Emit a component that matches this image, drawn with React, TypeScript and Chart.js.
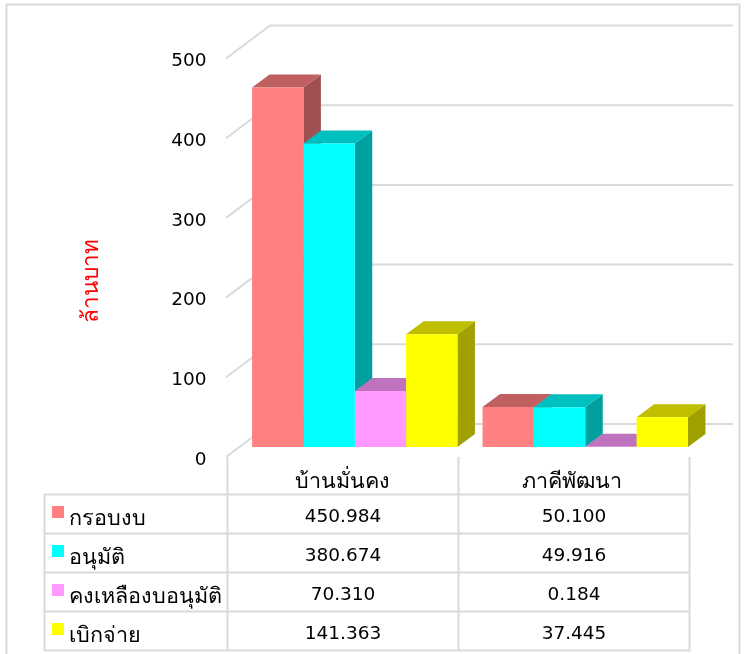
import React, { useEffect, useRef } from "react";
import { Chart, registerables } from "chart.js";

Chart.register(...registerables);

const categories = ["บ้านมั่นคง", "ภาคีพัฒนา"];
const seriesNames = ["กรอบงบ", "อนุมัติ", "คงเหลืองบอนุมัติ", "เบิกจ่าย"];
const budget = [450.984, 50.1];
const approved = [380.674, 49.916];
const remaining = [70.31, 0.184];
const disbursed = [141.363, 37.445];
const axisTitle = "ล้านบาท";

const frontColors = ["#FF8080", "#00FFFF", "#FF99FF", "#FFFF00"];
const topColors = ["#C05F5F", "#00BFBF", "#BF73BF", "#BFBF00"];
const sideColors = ["#A05050", "#00A0A0", "#A060A0", "#A0A000"];

const FONT = '"DejaVu Sans", "Noto Sans", sans-serif';
const GRID = "#DADADA";

const threeD = {
  id: "threeD",
  beforeDraw(chart: any) {
    const c = chart.ctx;
    c.save();
    c.fillStyle = "#fff";
    c.fillRect(0, 0, 744, 654);
    c.strokeStyle = GRID;
    c.lineWidth = 2;
    c.beginPath();
    c.moveTo(6.5, 660);
    c.lineTo(6.5, 4.5);
    c.lineTo(739.5, 4.5);
    c.lineTo(739.5, 660);
    c.stroke();
    c.restore();
  },
  beforeDatasetsDraw(chart: any) {
    const c = chart.ctx;
    const y = chart.scales.y;
    c.save();
    c.strokeStyle = GRID;
    c.lineWidth = 2;
    y.ticks.forEach((t: any) => {
      const p = y.getPixelForValue(t.value);
      c.beginPath();
      c.moveTo(226, p + 10);
      c.lineTo(270, p - 23);
      c.lineTo(733, p - 23);
      c.stroke();
    });
    const dx = 17.5;
    const dy = 13;
    const n = chart.data.labels.length;
    for (let i = 0; i < n; i++) {
      chart.data.datasets.forEach((_: any, d: number) => {
        const b = chart.getDatasetMeta(d).data[i];
        const l = b.x - b.width / 2;
        const r = b.x + b.width / 2;
        c.fillStyle = sideColors[d];
        c.beginPath();
        c.moveTo(r, b.y);
        c.lineTo(r + dx, b.y - dy);
        c.lineTo(r + dx, b.base - dy);
        c.lineTo(r, b.base);
        c.closePath();
        c.fill();
        c.fillStyle = topColors[d];
        c.beginPath();
        c.moveTo(l, b.y);
        c.lineTo(l + dx, b.y - dy);
        c.lineTo(r + dx, b.y - dy);
        c.lineTo(r, b.y);
        c.closePath();
        c.fill();
      });
    }
    c.restore();
  },
  afterDraw(chart: any) {
    const c = chart.ctx;
    c.save();
    // axis title
    c.save();
    c.translate(92, 281);
    c.rotate(-Math.PI / 2);
    c.fillStyle = "#FF0000";
    c.font = `22.5px ${FONT}`;
    c.textAlign = "center";
    c.textBaseline = "middle";
    c.fillText(axisTitle, 0, 0);
    c.restore();
    // data table
    const rows = [494.5, 533.5, 572.5, 611.5, 650.5];
    const cols = [227.5, 458.5, 689.5];
    c.strokeStyle = GRID;
    c.lineWidth = 2;
    rows.forEach((r) => {
      c.beginPath();
      c.moveTo(44, r);
      c.lineTo(690, r);
      c.stroke();
    });
    c.beginPath();
    c.moveTo(44.5, 494);
    c.lineTo(44.5, 651);
    cols.forEach((x) => {
      c.moveTo(x, 457);
      c.lineTo(x, 651);
    });
    c.stroke();
    c.textBaseline = "middle";
    chart.data.datasets.forEach((ds: any, d: number) => {
      const mid = (rows[d] + rows[d + 1]) / 2;
      c.fillStyle = frontColors[d];
      c.fillRect(52, rows[d] + 11.5, 12, 12);
      c.fillStyle = "#000";
      c.textAlign = "left";
      c.font = `21.6px ${FONT}`;
      c.fillText(ds.label, 69, mid + 5);
      c.textAlign = "center";
      c.font = `18.5px ${FONT}`;
      ds.data.forEach((v: number, i: number) => {
        c.fillText(v.toFixed(3), (cols[i] + cols[i + 1]) / 2, mid + 3.5);
      });
    });
    c.restore();
  },
};

export default function App() {
  const ref = useRef<HTMLCanvasElement>(null);
  useEffect(() => {
    const seriesValues = [budget, approved, remaining, disbursed];
    const chart = new Chart(ref.current!, {
      type: "bar",
      data: {
        labels: categories,
        datasets: seriesNames.map((label, i) => ({
          label,
          data: seriesValues[i],
          backgroundColor: frontColors[i],
          borderWidth: 0,
          barPercentage: 1,
          categoryPercentage: 0.891,
        })),
      },
      plugins: [threeD],
      options: {
        animation: false,
        responsive: false,
        devicePixelRatio: 1,
        layout: { padding: { top: 48.5, right: 43.5, bottom: 0, left: 0 } },
        plugins: { legend: { display: false }, title: { display: false }, tooltip: { enabled: false } },
        scales: {
          y: {
            min: 0,
            max: 500,
            afterFit: (s: any) => {
              s.width = 239.5;
            },
            border: { display: false },
            grid: { display: false, drawTicks: false },
            ticks: {
              stepSize: 100,
              padding: 33,
              labelOffset: 13,
              color: "#000",
              font: { family: FONT, size: 18.5 },
            },
          },
          x: {
            afterFit: (s: any) => {
              s.height = 207;
            },
            border: { display: false },
            grid: { display: false, drawTicks: false },
            ticks: {
              padding: 23,
              labelOffset: -13,
              maxRotation: 0,
              color: "#000",
              font: { family: FONT, size: 21.5 },
            },
          },
        },
      },
    } as any);
    return () => chart.destroy();
  }, []);
  return (
    <canvas
      ref={ref}
      width={744}
      height={654}
      style={{ position: "fixed", left: 0, top: 0, width: 744, height: 654 }}
    />
  );
}
